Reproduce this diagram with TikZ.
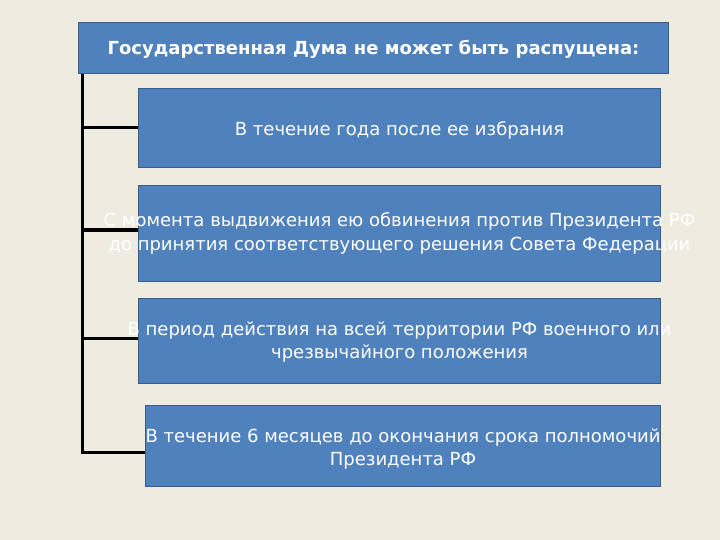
\documentclass[tikz,border=0pt]{standalone}
\usepackage{fontspec}
\usetikzlibrary{backgrounds}
\setmainfont{DejaVu Sans}
\definecolor{bg}{HTML}{EEECE1}
\definecolor{boxfill}{HTML}{4F81BD}
\definecolor{boxline}{HTML}{385D8A}
\begin{document}
\begin{tikzpicture}[x=1pt,y=-1pt,
  blbox/.style={draw=boxline,fill=boxfill,line width=1pt,inner sep=0pt,anchor=north west},
  bltext/.style={text=white,align=center,font=\fontsize{18}{23.5}\selectfont,inner sep=0pt},
  conn/.style={line width=3pt,black}]
\useasboundingbox (0,0) rectangle (720,540);
\node[blbox,minimum width=590pt,minimum height=51pt] (title) at (78,22) {};
\node[text=white,font=\fontsize{18}{22}\selectfont\bfseries,inner sep=0pt] (titletext) at ([yshift=-1pt]title.center) {Государственная Дума не может быть распущена:};
\node[blbox,minimum width=522pt,minimum height=79pt] (b1) at (138,88) {};
\node[blbox,minimum width=522pt,minimum height=96pt] (b2) at (138,185) {};
\node[blbox,minimum width=522pt,minimum height=85pt] (b3) at (138,298) {};
\node[blbox,minimum width=515pt,minimum height=81pt] (b4) at (145,405) {};
\coordinate (top) at (82,73);
\coordinate (j1) at (82,128);
\coordinate (j2) at (82,230);
\coordinate (j3) at (82,338);
\coordinate (j4) at (82,452);
\begin{pgfonlayer}{background}
\fill[bg] (0,0) rectangle (720,540);
\draw[conn] (top) -- (j4) -- (j4 -| b4.west);
\draw[conn] (j1) -- (j1 -| b1.west);
\draw[conn] (j2) -- (j2 -| b2.west);
\draw[conn] (j3) -- (j3 -| b3.west);
\end{pgfonlayer}
\node[bltext] (t1) at ([yshift=-2pt]b1.center) {В течение года после ее избрания};
\node[bltext] (t2) at (b2.center) {С момента выдвижения ею обвинения против Президента РФ\\до принятия соответствующего решения Совета Федерации};
\node[bltext] (t3) at ([yshift=-1pt]b3.center) {В период действия на всей территории РФ военного или\\чрезвычайного положения};
\node[bltext] (t4) at ([yshift=-3pt]b4.center) {В течение 6 месяцев до окончания срока полномочий\\Президента РФ};
\end{tikzpicture}
\end{document}
